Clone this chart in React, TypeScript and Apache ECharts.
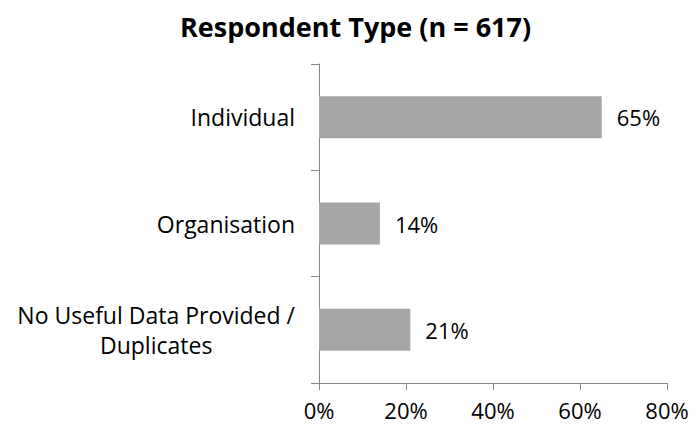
import React, { useEffect, useRef } from "react";
import * as echarts from "echarts";

const categories = ["Individual", "Organisation", "No Useful Data Provided /\nDuplicates"];
const values = [65, 14, 21];
const xTicks = [0, 20, 40, 60, 80];
const titleText = "Respondent Type (n = 617)";

export default function App() {
  const ref = useRef<HTMLDivElement>(null);
  useEffect(() => {
    if (!ref.current) return;
    const chart = echarts.init(ref.current, undefined, { renderer: "svg" });
    const font = "Open Sans";
    chart.setOption({
      animation: false,
      title: {
        text: titleText,
        left: 175,
        top: 8,
        textStyle: { fontFamily: font, fontSize: 27, fontWeight: "bold", color: "#000" },
      },
      grid: { left: 319, right: 27, top: 64, bottom: 43, containLabel: false },
      xAxis: {
        type: "value",
        min: xTicks[0],
        max: xTicks[xTicks.length - 1],
        interval: 20,
        axisLine: { show: true, lineStyle: { color: "#868686", width: 1 } },
        axisTick: { show: true, length: 7, lineStyle: { color: "#868686" } },
        splitLine: { show: false },
        axisLabel: {
          formatter: (v: number) => v + "%",
          fontFamily: font,
          fontSize: 22,
          color: "#000",
          margin: 16,
        },
      },
      yAxis: {
        type: "category",
        inverse: true,
        data: categories,
        axisLine: { show: true, lineStyle: { color: "#868686", width: 1 } },
        axisTick: { show: true, length: 8, lineStyle: { color: "#868686" } },
        axisLabel: {
          margin: 24,
          formatter: (v: string) =>
            v
              .split("\n")
              .map((s) => "{a|" + s + "}")
              .join("\n"),
          rich: {
            a: { fontFamily: font, fontSize: 23, color: "#000", align: "center", lineHeight: 30 },
          },
        },
      },
      series: [
        {
          type: "bar",
          data: values,
          barWidth: 42,
          itemStyle: { color: "#A6A6A6" },
          label: {
            show: true,
            position: "right",
            distance: 15,
            formatter: (p: any) => p.value + "%",
            fontFamily: font,
            fontSize: 22,
            color: "#000",
          },
        },
      ],
    });
    return () => chart.dispose();
  }, []);
  return <div ref={ref} style={{ width: 694, height: 426, position: "absolute", left: 0, top: 0 }} />;
}
